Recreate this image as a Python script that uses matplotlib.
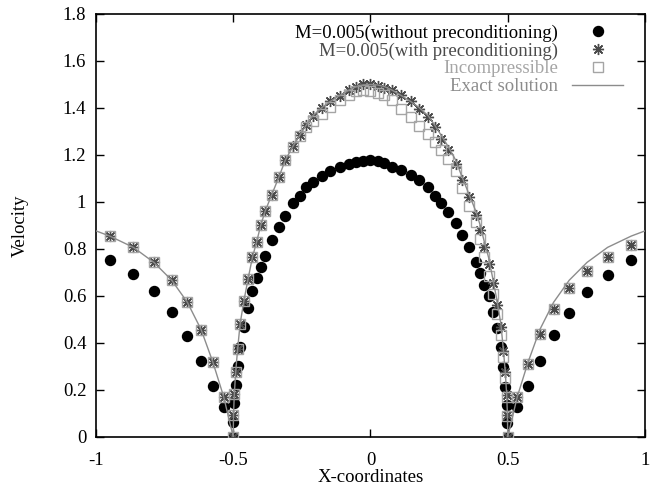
import numpy as np
import matplotlib
matplotlib.use("Agg")
import matplotlib.pyplot as plt

## values
x_pts = [-0.950, -0.864, -0.789, -0.724, -0.667, -0.617, -0.574, -0.535,
         -0.500, -0.499, -0.496, -0.491, -0.484, -0.475, -0.461, -0.446, -0.430, -0.415,
         -0.400, -0.384, -0.360, -0.333, -0.310, -0.282, -0.257, -0.234, -0.211, -0.178,
         -0.146, -0.112, -0.077, -0.051, -0.026, 0.000,
         0.026, 0.051, 0.077, 0.112, 0.146, 0.178, 0.211, 0.234, 0.257, 0.282,
         0.310, 0.333, 0.360, 0.384, 0.400, 0.415, 0.430, 0.446, 0.461, 0.475,
         0.484, 0.491, 0.496, 0.499, 0.500,
         0.535, 0.574, 0.617, 0.667, 0.724, 0.789, 0.864, 0.950]

v_without = [0.755, 0.695, 0.621, 0.530, 0.430, 0.325, 0.218, 0.128,
             0.000, 0.065, 0.143, 0.220, 0.300, 0.384, 0.469, 0.548, 0.621, 0.675,
             0.722, 0.770, 0.838, 0.892, 0.942, 0.994, 1.026, 1.063, 1.085, 1.112,
             1.132, 1.149, 1.162, 1.170, 1.175, 1.177,
             1.176, 1.167, 1.150, 1.136, 1.115, 1.094, 1.065, 1.026, 0.997, 0.959,
             0.912, 0.860, 0.807, 0.746, 0.697, 0.647, 0.600, 0.533, 0.463, 0.384,
             0.299, 0.214, 0.136, 0.058, 0.000,
             0.126, 0.218, 0.325, 0.434, 0.526, 0.616, 0.689, 0.753]

v_with = [0.855, 0.807, 0.743, 0.667, 0.573, 0.457, 0.318, 0.172,
          0.000, 0.094, 0.182, 0.278, 0.373, 0.481, 0.580, 0.672, 0.765, 0.829,
          0.900, 0.960, 1.030, 1.108, 1.179, 1.238, 1.285, 1.327, 1.366, 1.401,
          1.428, 1.453, 1.477, 1.491, 1.500, 1.500,
          1.494, 1.485, 1.475, 1.454, 1.429, 1.397, 1.362, 1.319, 1.270, 1.221,
          1.162, 1.094, 1.022, 0.945, 0.881, 0.809, 0.738, 0.654, 0.560, 0.470,
          0.368, 0.275, 0.180, 0.092, 0.000,
          0.172, 0.311, 0.438, 0.543, 0.633, 0.708, 0.767, 0.817]

v_incomp = [0.855, 0.807, 0.743, 0.667, 0.573, 0.457, 0.318, 0.172,
            0.000, 0.094, 0.182, 0.278, 0.373, 0.481, 0.580, 0.672, 0.765, 0.829,
            0.900, 0.960, 1.030, 1.108, 1.179, 1.235, 1.280, 1.318, 1.345, 1.375,
            1.404, 1.433, 1.457, 1.471, 1.475, 1.471,
            1.465, 1.454, 1.433, 1.397, 1.362, 1.323, 1.290, 1.255, 1.220, 1.182,
            1.133, 1.058, 0.983, 0.916, 0.841, 0.765, 0.685, 0.609, 0.522, 0.434,
            0.342, 0.250, 0.170, 0.090, 0.000,
            0.172, 0.311, 0.438, 0.543, 0.633, 0.708, 0.767, 0.817]

x_exact = [-1.000, -0.950, -0.864, -0.789, -0.724, -0.667, -0.617, -0.574, -0.535, -0.500,
           -0.499, -0.496, -0.491, -0.484, -0.475, -0.461, -0.446, -0.430, -0.415, -0.400,
           -0.384, -0.360, -0.333, -0.310, -0.282, -0.257, -0.234, -0.211, -0.178, -0.146,
           -0.112, -0.077, -0.051, -0.026, 0.000, 0.026, 0.051, 0.077, 0.112, 0.146,
           0.178, 0.211, 0.234, 0.257, 0.282, 0.310, 0.333, 0.360, 0.384, 0.400,
           0.415, 0.430, 0.446, 0.461, 0.475, 0.484, 0.491, 0.496, 0.499, 0.500,
           0.535, 0.574, 0.617, 0.667, 0.724, 0.789, 0.864, 0.950, 1.000]
v_exact = [0.877, 0.855, 0.807, 0.743, 0.667, 0.573, 0.457, 0.318, 0.172, 0.000,
           0.094, 0.182, 0.278, 0.373, 0.481, 0.580, 0.672, 0.765, 0.829, 0.900,
           0.960, 1.030, 1.108, 1.179, 1.238, 1.285, 1.327, 1.366, 1.401, 1.428,
           1.453, 1.477, 1.491, 1.498, 1.500, 1.498, 1.491, 1.477, 1.453, 1.428,
           1.401, 1.366, 1.327, 1.285, 1.238, 1.179, 1.108, 1.030, 0.960, 0.900,
           0.829, 0.765, 0.672, 0.580, 0.481, 0.373, 0.278, 0.182, 0.094, 0.000,
           0.172, 0.318, 0.457, 0.573, 0.667, 0.743, 0.807, 0.855, 0.877]

labels = ["M=0.005(without preconditioning)", "M=0.005(with preconditioning)",
          "Incompressible", "Exact solution"]
x_ticks = [-1, -0.5, 0, 0.5, 1]
y_ticks = [0, 0.2, 0.4, 0.6, 0.8, 1, 1.2, 1.4, 1.6, 1.8]

plt.rcParams["font.family"] = ["Liberation Serif", "DejaVu Serif"]
plt.rcParams["axes.unicode_minus"] = False
fs = 13.5

fig = plt.figure(figsize=(6.56, 4.87), dpi=100)
ax = fig.add_axes([0.1463, 0.1027, 0.8369, 0.8686])

c_dot, c_star, c_sq, c_line = "black", "#4a4a4a", "#a5a5a5", "#8c8c8c"

ax.plot(x_pts, v_without, "o", color=c_dot, markersize=7.2, label=labels[0], zorder=3)
ax.plot(x_pts, v_with, linestyle="none", marker=(8, 2, 0), color=c_star,
        markersize=8, markeredgewidth=1.0, label=labels[1], zorder=4)
ax.plot(x_pts, v_incomp, "s", color=c_sq, markerfacecolor="none",
        markersize=7.5, markeredgewidth=1.0, label=labels[2], zorder=5)
ax.plot(x_exact, v_exact, "-", color=c_line, linewidth=1.0, label=labels[3], zorder=6)

ax.set_xlim(-1, 1)
ax.set_ylim(0, 1.8)
ax.set_xticks(x_ticks)
ax.set_yticks(y_ticks)
ax.set_xticklabels(["%g" % t for t in x_ticks])
ax.set_yticklabels(["%g" % t for t in y_ticks])
ax.tick_params(direction="in", top=True, right=True, length=6, width=1.0,
               labelsize=fs)
ax.tick_params(axis="x", pad=10.5)
ax.tick_params(axis="y", pad=7)
for s in ax.spines.values():
    s.set_linewidth(1.2)

ax.set_xlabel("X-coordinates", fontsize=fs)
ax.set_ylabel("Velocity", fontsize=fs)
ax.xaxis.set_label_coords(0.5, -0.076)
ax.yaxis.set_label_coords(-0.122, 0.5)

leg = ax.legend(loc="upper right", bbox_to_anchor=(0.96, 0.975), frameon=False,
                markerfirst=False, fontsize=fs, handlelength=2.7, handletextpad=0.75,
                labelspacing=0.03, borderpad=0, borderaxespad=0)
for t, c in zip(leg.get_texts(), [c_dot, c_star, c_sq, c_line]):
    t.set_color(c)

fig.savefig("out.png", dpi=100)
